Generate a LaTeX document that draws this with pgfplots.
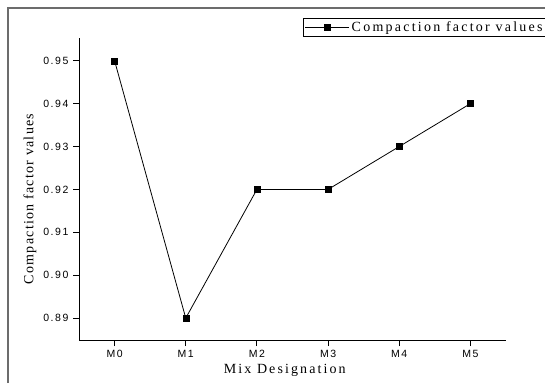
\documentclass[border=0pt]{standalone}
\usepackage{fontspec}
\setmainfont{Liberation Serif}
\newfontfamily\ticksf[LetterSpace=15]{Liberation Sans}
\newfontfamily\legserif[LetterSpace=16]{Liberation Serif}
\newfontfamily\xlabserif[LetterSpace=15]{Liberation Serif}
\newfontfamily\ylabserif[LetterSpace=9]{Liberation Serif}
\usepackage{pgfplots}
\pgfplotsset{compat=1.18}
\begin{document}
\begin{tikzpicture}[x=1pt,y=1pt]
\useasboundingbox (0,0) rectangle (545,383);
\draw[gray!85!black, line width=1.2pt] (8,0) -- (8,375) -- (546,375);
\begin{axis}[
  at={(79pt,43pt)}, anchor=south west,
  scale only axis, width=427pt, height=302pt,
  xmin=-0.5, xmax=5.5, ymin=0.8849, ymax=0.9553,
  axis x line*=bottom, axis y line*=left,
  axis line style={-, line width=1pt},
  tick align=outside, major tick length=6pt,
  tick style={line width=0.9pt, black},
  xtick={0,1,2,3,4,5},
  xticklabels={M0,M1,M2,M3,M4,M5},
  ytick={0.89,0.90,0.91,0.92,0.93,0.94,0.95},
  yticklabel style={/pgf/number format/fixed, /pgf/number format/fixed zerofill, /pgf/number format/precision=2, xshift=-1pt},
  /pgf/number format/assume math mode=true,
  ticklabel style={font=\ticksf\fontsize{10.5}{12}\selectfont},
  xticklabel style={yshift=-1pt},
  xlabel={Mix Designation},
  xlabel style={at={(axis description cs:0.482,0)}, anchor=north, inner sep=0pt, yshift=-24pt, font=\xlabserif\fontsize{14}{16}\selectfont},
  ylabel={Compaction factor values},
  ylabel style={at={(axis description cs:-0.1148,0.467)}, anchor=center, inner sep=0pt, font=\ylabserif\fontsize{14}{16}\selectfont},
  legend style={at={(axis description cs:0.5246,1.066)}, anchor=north west, draw=black, line width=0.8pt, inner sep=1.5pt, font=\legserif\fontsize{14}{15}\selectfont, /tikz/every even column/.append style={column sep=1pt}},
  legend cell align=left,
  legend image code/.code={\draw[#1,mark=none] (2pt,0pt) -- (46pt,0pt); \draw[#1] plot coordinates {(24pt,0pt)};},
  clip=false,
]
\addplot[black, line width=0.8pt, mark=square*, mark size=3pt, mark options={solid, line width=0.4pt}] coordinates {
  (0,0.95) (1,0.89) (2,0.92) (3,0.92) (4,0.93) (5,0.94)
};
\addlegendentry{Compaction factor values}
\end{axis}
\end{tikzpicture}
\end{document}
